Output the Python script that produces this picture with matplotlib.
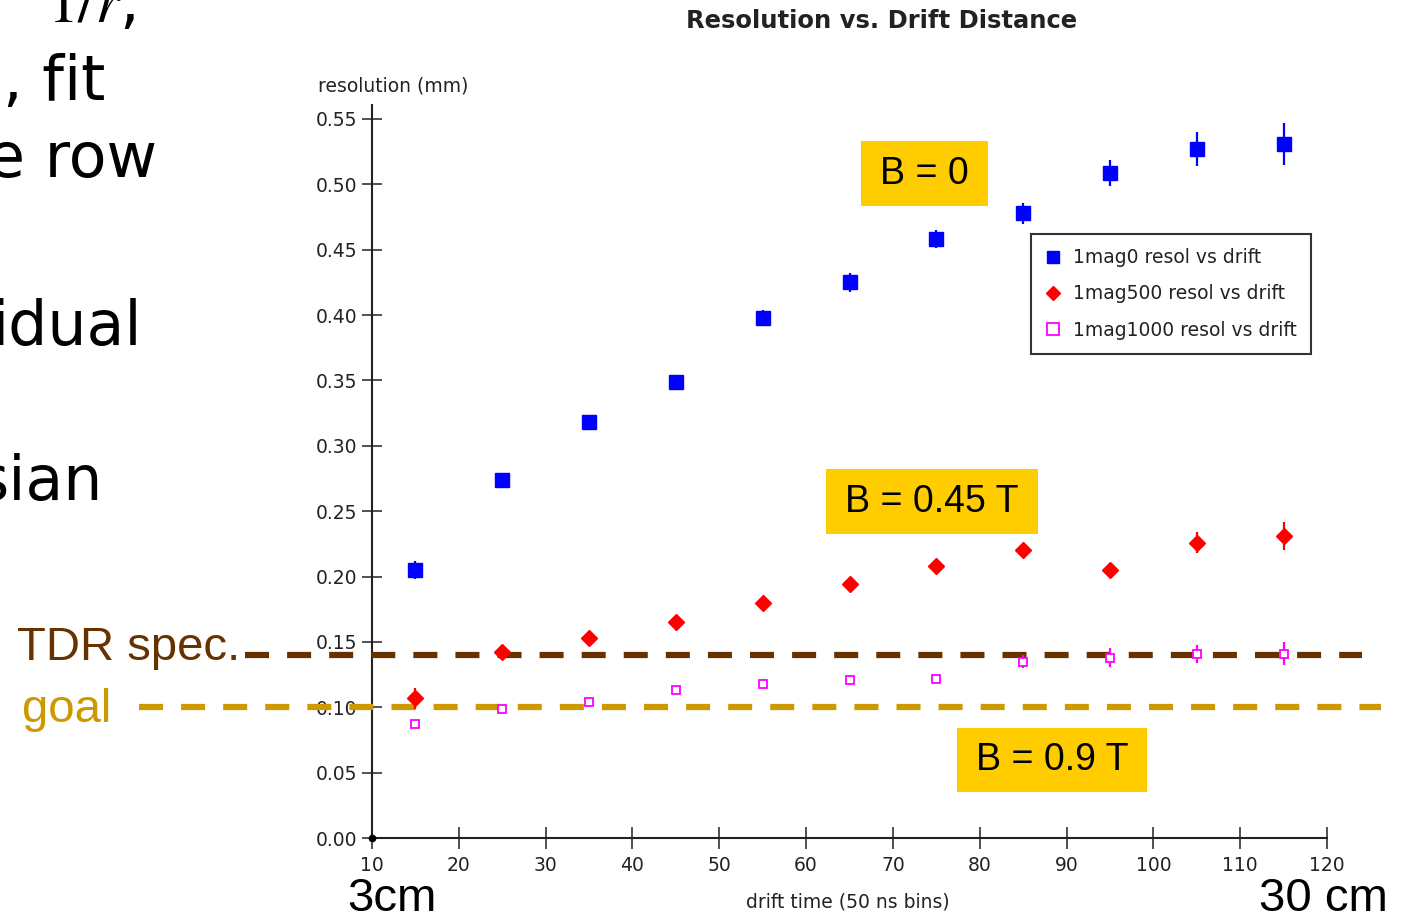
import numpy as np
import matplotlib
matplotlib.use("Agg")
import matplotlib.pyplot as plt
from matplotlib.lines import Line2D
from matplotlib.patches import Rectangle

plt.rcParams["mathtext.fontset"] = "stix"

W, H = 1402, 921

# drift time bins (50 ns)
drift = [15, 25, 35, 45, 55, 65, 75, 85, 95, 105, 115]

# resolution (mm) per field setting
res_b0 = [0.205, 0.274, 0.318, 0.349, 0.398, 0.425, 0.458, 0.478, 0.509, 0.527, 0.531]
err_b0 = [0.007, 0.005, 0.005, 0.005, 0.006, 0.007, 0.007, 0.008, 0.010, 0.013, 0.016]

res_b500 = [0.107, 0.142, 0.153, 0.165, 0.180, 0.194, 0.208, 0.220, 0.205, 0.226, 0.231]
err_b500 = [0.008, 0.004, 0.004, 0.005, 0.005, 0.005, 0.005, 0.004, 0.005, 0.008, 0.011]

res_b1000 = [0.087, 0.099, 0.104, 0.113, 0.118, 0.121, 0.122, 0.135, 0.138, 0.141, 0.141]
err_b1000 = [0.003, 0.002, 0.002, 0.003, 0.004, 0.003, 0.003, 0.005, 0.007, 0.007, 0.009]

labels = ["1mag0 resol vs drift", "1mag500 resol vs drift", "1mag1000 resol vs drift"]

tdr_spec = 0.14
goal = 0.10

BROWN = "#663300"
GOLD = "#CC9900"
BOX = "#FFCC00"
INK = "#222222"


def fx(x):
    return x / W


def fy(y):
    return 1 - y / H


fig = plt.figure(figsize=(W / 100, H / 100), dpi=100)
ax = fig.add_axes([fx(372), fy(838), 955 / W, 733 / H])
ax.set_xlim(10, 120)
ax.set_ylim(0, 0.5607)
ax.set_xticks(np.arange(10, 121, 10))
ax.set_yticks(np.arange(0, 0.551, 0.05))
ax.yaxis.set_major_formatter(matplotlib.ticker.FormatStrFormatter("%.2f"))

for side in ["top", "right"]:
    ax.spines[side].set_visible(False)
for side in ["left", "bottom"]:
    ax.spines[side].set_linewidth(1.5)
    ax.spines[side].set_color(INK)

ax.tick_params(axis="y", direction="inout", length=15, width=1.1, pad=3,
               labelsize=13.5, colors=INK)
ax.tick_params(axis="x", direction="inout", length=16.5, width=1.1, pad=5,
               labelsize=13.5, colors=INK)

# dot at the origin
x0, y0 = ax.get_xlim()[0], ax.get_ylim()[0]
ax.plot(x0, y0, "o", color="black", ms=4.5, clip_on=False, zorder=5)

# reference lines, extending past the axes
lw = 4.5
dash = (0, (17.3 / lw, 13.0 / lw))
ax.axhline(tdr_spec, xmin=(245 - 372) / 955, xmax=(1362 - 372) / 955,
           color=BROWN, lw=lw, ls=dash, clip_on=False, zorder=3,
           dash_capstyle="butt")
ax.axhline(goal, xmin=(139 - 372) / 955, xmax=(1381 - 372) / 955,
           color=GOLD, lw=lw, ls=dash, clip_on=False, zorder=3,
           dash_capstyle="butt")

ax.errorbar(drift, res_b0, yerr=err_b0, fmt="s", color="#0000FF", ms=9.5,
            elinewidth=1.6, capsize=0, zorder=4)
ax.errorbar(drift, res_b500, yerr=err_b500, fmt="D", color="#FF0000", ms=8.5,
            elinewidth=1.6, capsize=0, zorder=4)
ax.errorbar(drift, res_b1000, yerr=err_b1000, fmt="s", color="#FF00FF", ms=6,
            mfc="white", mew=1.3, elinewidth=1.6, capsize=0, zorder=4)

handles = [
    Line2D([], [], marker="s", color="#0000FF", ls="none", ms=9),
    Line2D([], [], marker="D", color="#FF0000", ls="none", ms=7),
    Line2D([], [], marker="s", color="#FF00FF", mfc="white", mew=1.3, ls="none", ms=9),
]
leg = ax.legend(handles, labels, loc="upper left", bbox_to_anchor=(0.690, 0.824),
                fontsize=13.5, frameon=True, fancybox=False, borderpad=0.75,
                handlelength=0.9, handletextpad=0.6, labelspacing=0.92,
                borderaxespad=0)
leg.get_frame().set_edgecolor("black")
leg.get_frame().set_linewidth(1.5)
for t in leg.get_texts():
    t.set_color(INK)

# titles and axis labels
fig.text(fx(882), fy(21), "Resolution vs. Drift Distance", ha="center", va="center",
         fontsize=17.5, fontweight="bold", color=INK)
fig.text(fx(318), fy(86), "resolution (mm)", ha="left", va="center",
         fontsize=13.5, color=INK)
fig.text(fx(848), fy(902), "drift time (50 ns bins)", ha="center", va="center",
         fontsize=13.5, color=INK)


def field_box(x_left, y_top, x_right, y_bot, txt):
    fig.patches.append(Rectangle((fx(x_left), fy(y_bot)), (x_right - x_left) / W,
                                 (y_bot - y_top) / H, transform=fig.transFigure,
                                 facecolor=BOX, edgecolor="none", zorder=6))
    fig.text(fx((x_left + x_right) / 2), fy((y_top + y_bot) / 2), txt,
             ha="center", va="center", fontsize=27, family="Liberation Sans",
             color="black", zorder=7)


field_box(861, 141, 988, 206, "B = 0")
field_box(826, 469, 1038, 534, "B = 0.45 T")
field_box(957, 728, 1147, 792, "B = 0.9 T")

big = dict(fontsize=34, family="Liberation Sans")
fig.text(fx(240), fy(660), "TDR spec.", ha="right", va="baseline", color=BROWN, **big)
fig.text(fx(22), fy(722), "goal", ha="left", va="baseline", color=GOLD, **big)
fig.text(fx(347), fy(911), "3cm", ha="left", va="baseline", color="black", **big)
fig.text(fx(1388), fy(911), "30 cm", ha="right", va="baseline", color="black", **big)

# slide text running in from the left
side = dict(fontsize=44.6, family="DejaVu Sans", color="black", ha="right", va="baseline")
fig.text(fx(135), fy(22), "$1/r$,", **side)
fig.text(fx(105), fy(100), ", fit", **side)
fig.text(fx(157), fy(177), "e row", **side)
fig.text(fx(142), fy(345), "idual", **side)
fig.text(fx(103), fy(500), "sian", **side)

fig.savefig("out.png", dpi=100)
